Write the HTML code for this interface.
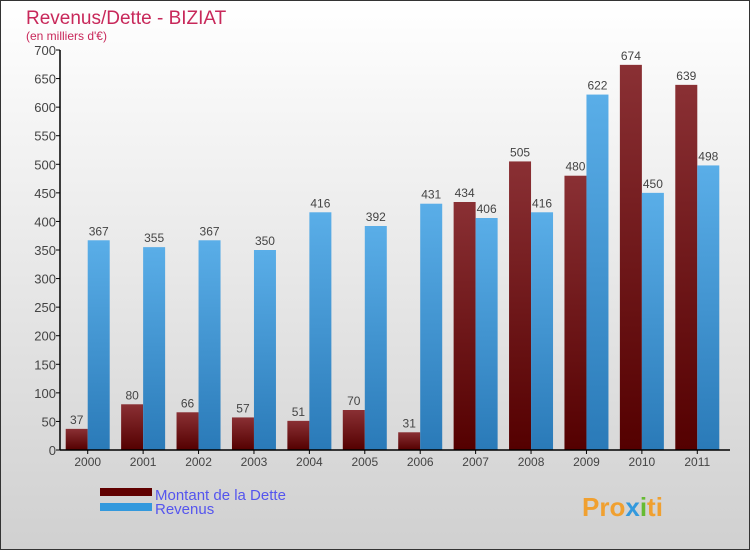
<!DOCTYPE html>
<html><head><meta charset="utf-8"><style>
body{margin:0;width:750px;height:550px;overflow:hidden;font-family:"Liberation Sans",sans-serif}
</style></head><body>
<svg id="c" width="750" height="550" xmlns="http://www.w3.org/2000/svg">
<defs>
<linearGradient id="bg" x1="0" y1="0" x2="0" y2="1"><stop offset="0" stop-color="#ffffff"/><stop offset="1" stop-color="#d0d0d0"/></linearGradient>
<linearGradient id="gd" x1="0" y1="0" x2="0" y2="1"><stop offset="0" stop-color="#8a3034"/><stop offset="1" stop-color="#540000"/></linearGradient>
<linearGradient id="gr" x1="0" y1="0" x2="0" y2="1"><stop offset="0" stop-color="#5aaee8"/><stop offset="1" stop-color="#2a7ab8"/></linearGradient>
</defs>
<rect x="0.5" y="0.5" width="749" height="549" fill="url(#bg)" stroke="#333"/>
<text x="26" y="24" font-size="19" fill="#c8285a">Revenus/Dette - BIZIAT</text>
<text x="26" y="40" font-size="12" fill="#c8285a">(en milliers d'€)</text>
<g id="plot"></g>
<g>
<rect x="100" y="488" width="52" height="8" fill="#600000"/>
<text x="155" y="500" font-size="15" fill="#5555ee">Montant de la Dette</text>
<rect x="100" y="503" width="52" height="8" fill="#3399dd"/>
<text x="155" y="514" font-size="15" fill="#5555ee">Revenus</text>
</g>
<text x="582" y="516" font-size="26" font-weight="bold" fill="#f0a030">Pro<tspan fill="#3399dd">x</tspan><tspan fill="#66bb33">i</tspan>ti</text>
</svg>
<script>
const years=["2000","2001","2002","2003","2004","2005","2006","2007","2008","2009","2010","2011"];
const dette=[37,80,66,57,51,70,31,434,505,480,674,639];
const revenus=[367,355,367,350,416,392,431,406,416,622,450,498];
const yTicks=[0,50,100,150,200,250,300,350,400,450,500,550,600,650,700];
const NS="http://www.w3.org/2000/svg";
const g=document.getElementById('plot');
const x0=60,x1=725,yb=450,yt=50,ymax=700;
const gw=(x1-x0)/years.length;
const y=v=>yb-(v/ymax)*(yb-yt);
function el(t,a){const e=document.createElementNS(NS,t);for(const k in a)e.setAttribute(k,a[k]);g.appendChild(e);return e;}
yTicks.forEach(v=>{
 const l=el('line',{x1:x0-4,x2:x0,y1:y(v),y2:y(v),stroke:'#000'});
 
 
 const t=el('text',{x:x0-4,y:y(v)+5,'font-size':13,'text-anchor':'end',fill:'#444'});
 t.textContent=v;
 
 
});
years.forEach((yr,i)=>{
 const c=x0+gw*(i+0.5);
 const bd=el('rect',{x:c-22,y:y(dette[i]),width:22,height:yb-y(dette[i]),fill:'url(#gd)'});
 
 
 const br=el('rect',{x:c,y:y(revenus[i]),width:22,height:yb-y(revenus[i]),fill:'url(#gr)'});
 
 
 const td=el('text',{x:c-11,y:y(dette[i])-5,'font-size':12,'text-anchor':'middle',fill:'#444'});
 td.textContent=dette[i];
 
 
 const tr=el('text',{x:c+11,y:y(revenus[i])-5,'font-size':12,'text-anchor':'middle',fill:'#444'});
 tr.textContent=revenus[i];
 
 
 const tk=el('line',{x1:c,x2:c,y1:yb,y2:yb+4,stroke:'#000'});
 
 
 const tx=el('text',{x:c,y:yb+16,'font-size':12,'text-anchor':'middle',fill:'#444'});
 tx.textContent=yr;
 
 
});
const ya=el('line',{x1:x0,x2:x0,y1:yt,y2:yb,stroke:'#000','stroke-width':1.5});


const xa=el('line',{x1:x0,x2:x1+5,y1:yb,y2:yb,stroke:'#000','stroke-width':1.5});


</script>
</body></html>
